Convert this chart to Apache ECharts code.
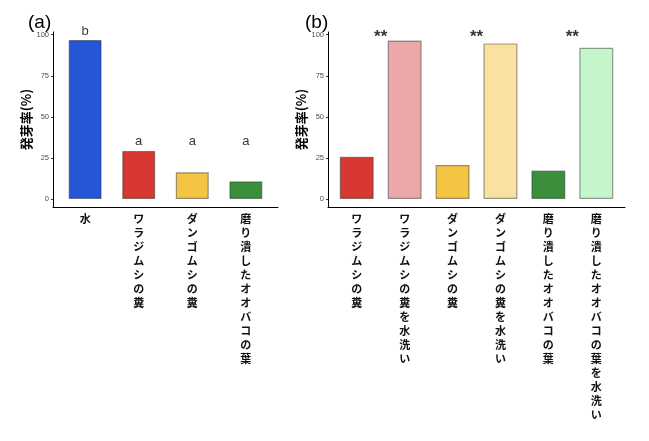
<!DOCTYPE html>
<html>
<head>
<meta charset="utf-8">
<script src="https://cdn.jsdelivr.net/npm/echarts@6/dist/echarts.min.js"></script>
<style>
html,body{margin:0;padding:0;background:#fff;}
#chart{width:649px;height:441px;}
</style>
</head>
<body>
<div id="chart"></div>
<script>
// ---- data ----
const categoriesA = ['水', 'ワラジムシの糞', 'ダンゴムシの糞', '磨り潰したオオバコの葉'];
const valuesA = [96.8, 29.3, 16.3, 10.8];
const colorsA = ['#2456d6', '#d83832', '#f4c545', '#3a8e3c'];
const lettersA = ['b', 'a', 'a', 'a'];
const letterYA = [101.8, 34.8, 34.8, 34.8];

const categoriesB = ['ワラジムシの糞', 'ワラジムシの糞を水洗い', 'ダンゴムシの糞', 'ダンゴムシの糞を水洗い', '磨り潰したオオバコの葉', '磨り潰したオオバコの葉を水洗い'];
const valuesB = [25.8, 96.5, 20.7, 94.7, 17.3, 92.1];
const colorsB = ['#d83832', '#eba7a9', '#f4c545', '#f9e2a1', '#3a8e3c', '#c5f5cb'];
const starsXB = [0.5, 2.5, 4.5];
const starsYB = [100.6, 100.6, 100.6];
const starText = '**';

const yTicks = [0, 25, 50, 75, 100];
const yTitle = '発芽率(%)';

// ---- chart ----
const chart = echarts.init(document.getElementById('chart'), null, {renderer: 'canvas'});
const jp = '"Noto Sans CJK JP", sans-serif';
const latin = '"Liberation Sans", Arial, sans-serif';

function xAxisFor(idx, cats) {
  const ticks = cats.map((c, i) => i);
  return {
    type: 'value', gridIndex: idx, min: -0.6, max: cats.length - 1 + 0.6,
    axisLine: {show: true, onZero: false, lineStyle: {color: '#000', width: 1}},
    axisTick: {show: false},
    splitLine: {show: false},
    axisLabel: {
      customValues: ticks, margin: 5, interval: 0,
      fontFamily: jp, fontWeight: 'bold', fontSize: 11, lineHeight: 14,
      color: '#111', align: 'center', verticalAlign: 'top',
      formatter: v => cats[Math.round(v)].split('').join('\n')
    }
  };
}
function yAxisFor(idx) {
  return {
    type: 'value', gridIndex: idx, min: -4.84, max: 101.64,
    name: yTitle, nameLocation: 'middle', nameRotate: 90, nameGap: 19,
    nameTextStyle: {fontFamily: jp, fontWeight: 'bold', fontSize: 13, color: '#000'},
    axisLine: {show: true, onZero: false, lineStyle: {color: '#000', width: 1}},
    axisTick: {show: true, customValues: yTicks, length: 2, lineStyle: {color: '#333'}},
    splitLine: {show: false},
    axisLabel: {customValues: yTicks, margin: 4, fontFamily: latin, fontSize: 7.5, color: '#4d4d4d'}
  };
}
function barData(vals, cols) {
  return vals.map((v, i) => ({value: [i, v], itemStyle: {color: cols[i]}}));
}

chart.setOption({
  animation: false,
  backgroundColor: '#fff',
  title: [
    {text: '(a)', left: 23, top: 8, textStyle: {fontFamily: latin, fontWeight: 'normal', fontSize: 19, color: '#000'}},
    {text: '(b)', left: 300, top: 8, textStyle: {fontFamily: latin, fontWeight: 'normal', fontSize: 19, color: '#000'}}
  ],
  grid: [
    {left: 53, top: 32, width: 225, height: 175},
    {left: 328, top: 32, width: 297, height: 175}
  ],
  xAxis: [xAxisFor(0, categoriesA), xAxisFor(1, categoriesB)],
  yAxis: [yAxisFor(0), yAxisFor(1)],
  series: [
    {
      type: 'bar', xAxisIndex: 0, yAxisIndex: 0, barWidth: 33,
      itemStyle: {borderColor: 'rgba(40,40,40,0.45)', borderWidth: 1.2},
      data: barData(valuesA, colorsA)
    },
    {
      type: 'scatter', xAxisIndex: 0, yAxisIndex: 0, symbolSize: 0, clip: false,
      data: letterYA.map((y, i) => [i, y]),
      label: {show: true, position: 'inside', formatter: p => lettersA[p.dataIndex],
        fontFamily: latin, fontSize: 13, color: '#000'}
    },
    {
      type: 'bar', xAxisIndex: 1, yAxisIndex: 1, barWidth: 34,
      itemStyle: {borderColor: 'rgba(40,40,40,0.45)', borderWidth: 1.2},
      data: barData(valuesB, colorsB)
    },
    {
      type: 'scatter', xAxisIndex: 1, yAxisIndex: 1, symbolSize: 0, clip: false,
      data: starsXB.map((x, i) => [x, starsYB[i]]),
      label: {show: true, position: 'inside', formatter: starText, offset: [0, 4],
        fontFamily: latin, fontWeight: 'bold', fontSize: 17, color: '#000'}
    }
  ]
});
</script>
</body>
</html>
